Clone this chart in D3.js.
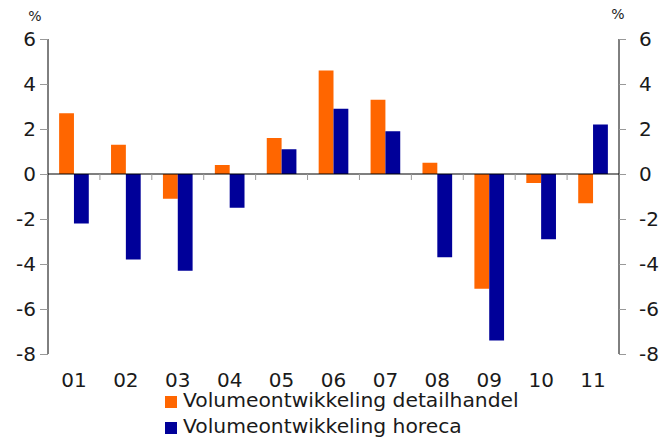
<!DOCTYPE html>
<html>
<head>
<meta charset="utf-8">
<script src="https://cdn.jsdelivr.net/npm/d3@7"></script>
<style>
  body { margin: 0; background: #fff; }
  text { font-family: "DejaVu Sans", Verdana, sans-serif; fill: #1a1a1a; }
</style>
</head>
<body>
<div id="chart"></div>
<script>
// data
const categories  = ["01", "02", "03", "04", "05", "06", "07", "08", "09", "10", "11"];
const detailhandel = [2.7, 1.3, -1.1, 0.4, 1.6, 4.6, 3.3, 0.5, -5.1, -0.4, -1.3];
const horeca       = [-2.2, -3.8, -4.3, -1.5, 1.1, 2.9, 1.9, -3.7, -7.4, -2.9, 2.2];
const seriesNames  = ["Volumeontwikkeling detailhandel", "Volumeontwikkeling horeca"];
const yTicks       = [6, 4, 2, 0, -2, -4, -6, -8];

const colors = ["#ff6600", "#000099"];

const W = 664, H = 441;
const plotLeft = 48, plotRight = 619, plotTop = 39, plotBottom = 354;
const fontSize = "20px";

const svg = d3.select("#chart").append("svg")
  .attr("width", W)
  .attr("height", H);

// skala
const x = d3.scaleBand().domain(categories).range([plotLeft, plotRight]);
const y = d3.scaleLinear().domain([-8, 6]).range([plotBottom, plotTop]);
const inner = d3.scaleBand().domain([0, 1]).range([0, x.bandwidth()]).paddingOuter(0.75).paddingInner(0);

// batang
const series = [detailhandel, horeca];
series.forEach((vals, s) => {
  svg.append("g").selectAll("rect")
    .data(vals)
    .enter()
    .append("rect")
    .attr("x", (d, i) => x(categories[i]) + inner(s))
    .attr("width", inner.bandwidth())
    .attr("y", d => y(Math.max(0, d)))
    .attr("height", d => Math.abs(y(d) - y(0)))
    .attr("fill", colors[s]);
});

// sumbu kiri (tanda minus pakai hyphen biasa)
const fmt = d => String(d);
const axL = svg.append("g")
  .attr("transform", `translate(${plotLeft},0)`)
  .call(d3.axisLeft(y).tickValues(yTicks).tickSize(8).tickPadding(4).tickFormat(fmt));
axL.select(".domain").attr("stroke", "#000").attr("d", `M0,${plotTop}V${plotBottom}`);
axL.selectAll(".tick line").attr("stroke", "#999");
axL.selectAll(".tick text").attr("font-size", fontSize).attr("fill", "#1a1a1a")
  .style("font-family", "'DejaVu Sans', Verdana, sans-serif");

// sumbu kanan
const axR = svg.append("g")
  .attr("transform", `translate(${plotRight},0)`)
  .call(d3.axisRight(y).tickValues(yTicks).tickSize(7).tickPadding(13).tickFormat(fmt));
axR.select(".domain").attr("stroke", "#000").attr("d", `M0,${plotTop}V${plotBottom}`);
axR.selectAll(".tick line").attr("stroke", "#999");
axR.selectAll(".tick text").attr("font-size", fontSize).attr("fill", "#1a1a1a")
  .style("font-family", "'DejaVu Sans', Verdana, sans-serif");

// garis nol + tick kategori
svg.append("line")
  .attr("x1", plotLeft).attr("x2", plotRight)
  .attr("y1", y(0)).attr("y2", y(0))
  .attr("stroke", "#000").attr("stroke-width", 1.2);

svg.append("g").selectAll("line")
  .data(categories.slice(1))
  .enter()
  .append("line")
  .attr("x1", d => x(d)).attr("x2", d => x(d))
  .attr("y1", y(0)).attr("y2", y(0) + 6)
  .attr("stroke", "#999");

// label kategori
svg.append("g").selectAll("text")
  .data(categories)
  .enter()
  .append("text")
  .attr("x", d => x(d) + x.bandwidth() / 2)
  .attr("y", 387)
  .attr("text-anchor", "middle")
  .attr("font-size", fontSize)
  .text(d => d);

// satuan %
svg.append("text").attr("x", 35).attr("y", 21).attr("text-anchor", "middle")
  .attr("font-size", "14px").text("%");
svg.append("text").attr("x", 618).attr("y", 19).attr("text-anchor", "middle")
  .attr("font-size", "14px").text("%");

// legenda
const leg = svg.append("g").attr("transform", "translate(165,396)");
seriesNames.forEach((name, i) => {
  leg.append("rect")
    .attr("x", 0).attr("y", i * 26)
    .attr("width", 12).attr("height", 12)
    .attr("fill", colors[i]);
  leg.append("text")
    .attr("x", 18).attr("y", i * 26 + 11)
    .attr("font-size", "20.3px")
    .text(name);
});
</script>
</body>
</html>
